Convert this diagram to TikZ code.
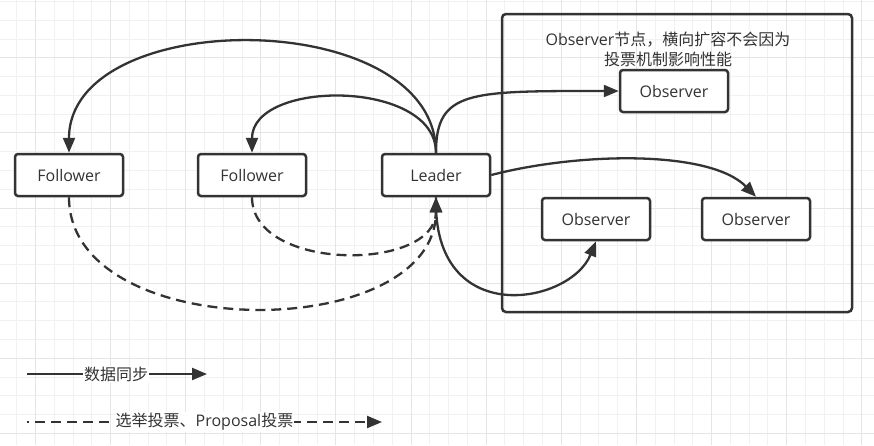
\documentclass[tikz,border=0pt]{standalone}
\usepackage{fontspec}
\setmainfont{Open Sans}
\newfontfamily\cjk{Noto Sans CJK SC}
\usetikzlibrary{arrows.meta}
\definecolor{ink}{HTML}{333333}
\definecolor{gridminor}{HTML}{F1F1F1}
\definecolor{gridmajor}{HTML}{E5E5E5}
\tikzset{
  box/.style={draw=ink, line width=2.5pt, rounded corners=3pt, fill=white, text=ink,
    minimum width=108pt, minimum height=42pt, inner sep=0pt, font=\fontsize{16}{19}\selectfont},
  sync/.style={draw=ink, line width=2.3pt, -{Triangle[length=15pt,width=12pt]}},
  vote/.style={sync, dash pattern=on 10pt off 6pt},
  legend/.style={fill=white, text=ink, inner sep=1pt, font=\fontsize{16}{19}\selectfont},
}
\begin{document}
\begin{tikzpicture}[x=1pt,y=-1pt]
\useasboundingbox (0,0) rectangle (874,445);
% background grid
\foreach \i in {0,...,45} \draw[gridminor, line width=1pt] ({16.7+18.78*\i},0) -- ++(0,445);
\foreach \j in {0,...,23} \draw[gridminor, line width=1pt] (0,{1.5+18.78*\j}) -- ++(874,0);
\foreach \i in {1,5,...,45} \draw[gridmajor, line width=1pt] ({16.7+18.78*\i},0) -- ++(0,445);
\foreach \j in {3,7,...,23} \draw[gridmajor, line width=1pt] (0,{1.5+18.78*\j}) -- ++(874,0);
% observer area
\draw[ink, line width=2.5pt, rounded corners=4pt] (502,14) rectangle (852,312);
\node[text=ink, align=center, font=\fontsize{16}{20}\selectfont] (note) at (668,49)
  {Observer{\cjk 节点，横向扩容不会因为}\\{\cjk 投票机制影响性能}};
% nodes
\node[box] (f1) at (69,175) {Follower};
\node[box] (f2) at (252,175) {Follower};
\node[box] (ldr) at (436,175) {Leader};
\node[box] (o1) at (674,91) {Observer};
\node[box] (o2) at (596,219) {Observer};
\node[box] (o3) at (756,219) {Observer};
% data sync
\draw[sync] (ldr.north) .. controls (436,5) and (69,5) .. (f1.north);
\draw[sync] (ldr.north) .. controls (436,79) and (252,79) .. (f2.north);
\draw[sync] (ldr.north) .. controls (436,90) and (470,91) .. (o1.west);
\draw[sync] (ldr.east) .. controls (580,152) and (710,150) .. (o3.north);
\draw[sync] (ldr.south) .. controls (432,330) and (570,305) .. (o2.south);
% votes
\draw[vote] (f1.south) .. controls (69,345) and (436,345) .. (ldr.south);
\draw[vote] (f2.south) .. controls (252,272) and (436,272) .. (ldr.south);
% legend
\coordinate (s0) at (27,374);
\coordinate (s1) at (207,374);
\coordinate (v0) at (27,422);
\coordinate (v1) at (382,422);
\draw[sync] (s0) -- (s1);
\draw[vote, dash phase=8pt] (v0) -- (v1);
\node[legend] (slbl) at (116,374) {\cjk 数据同步};
\node[legend] (vlbl) at (204.5,422) {{\cjk 选举投票、}Proposal{\cjk 投票}};
\end{tikzpicture}
\end{document}
